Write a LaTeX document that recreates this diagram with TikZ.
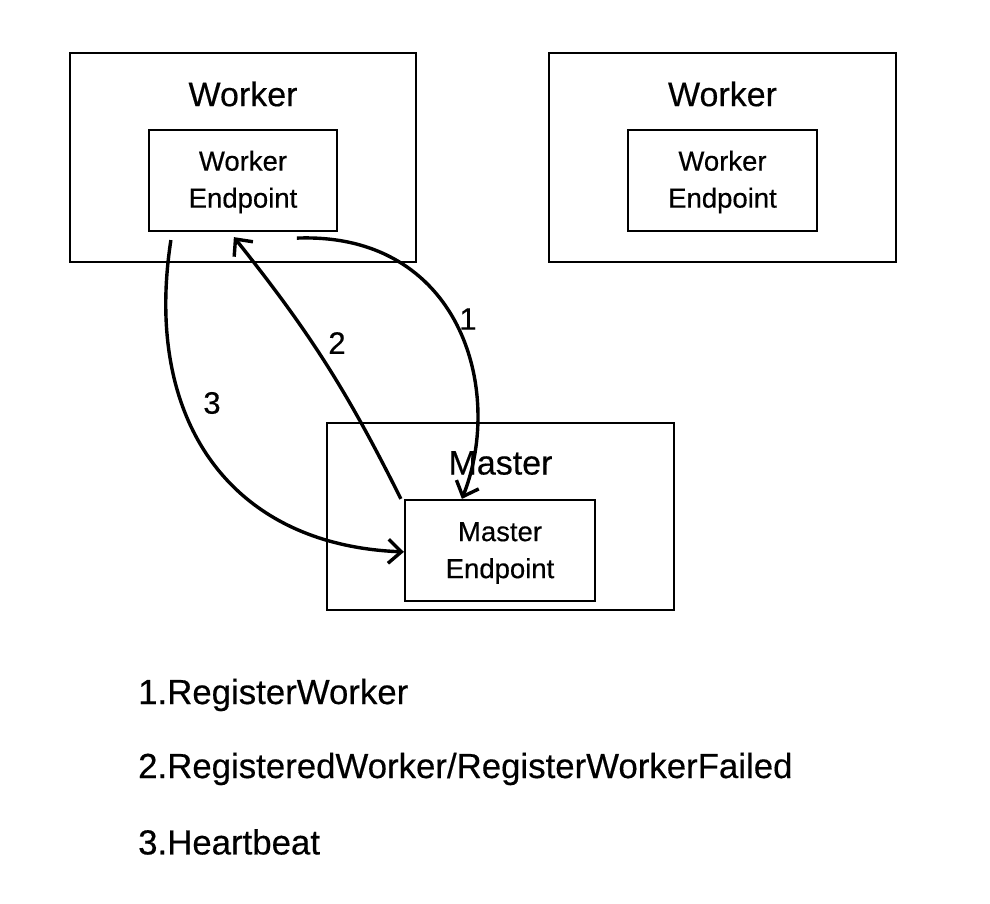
\documentclass[tikz,border=0pt]{standalone}
\usepackage{fontspec}
\setmainfont{Liberation Sans}[BoldFont={Liberation Sans},BoldFeatures={FakeBold=0.4}]
\usetikzlibrary{arrows.meta,calc}
\begin{document}
\begin{tikzpicture}[x=1pt,y=-1pt,
  outerbox/.style={draw=black,line width=2.2pt,rectangle,inner sep=0pt},
  innerbox/.style={draw=black,line width=2.2pt,rectangle,inner sep=0pt},
  title/.style={font=\bfseries\fontsize{34}{40}\selectfont,inner sep=0pt},
  inner/.style={font=\bfseries\fontsize{27.5}{37}\selectfont,align=center,inner sep=0pt},
  num/.style={font=\bfseries\fontsize{31}{36}\selectfont,inner sep=0pt},
  legend/.style={font=\bfseries\fontsize{34.8}{40}\selectfont,anchor=west,inner sep=0pt},
  conn/.style={line width=3.4pt,-{Straight Barb[length=13pt,width=24pt,line width=3.4pt]}}]
\useasboundingbox[fill=white] (0,0) rectangle (990,904);
% Worker 1
\node[outerbox,minimum width=346pt,minimum height=209pt] (w1) at (243,157.5) {};
\node[title] (w1t) at (243,94) {Worker};
\node[innerbox,minimum width=188pt,minimum height=101pt] (we1) at (243,180.5) {};
\node[inner] (we1t) at (243,182) {Worker\\Endpoint};
% Worker 2
\node[outerbox,minimum width=347pt,minimum height=209pt] (w2) at (722.5,157.5) {};
\node[title] (w2t) at (722.5,94) {Worker};
\node[innerbox,minimum width=189pt,minimum height=101pt] (we2) at (722.5,180.5) {};
\node[inner] (we2t) at (722.5,182) {Worker\\Endpoint};
% Master
\node[outerbox,minimum width=347pt,minimum height=187pt] (m) at (500.5,516.5) {};
\node[title] (mt) at (500.5,463) {Master};
\node[innerbox,minimum width=190pt,minimum height=101pt] (me) at (500,550.5) {};
\node[inner] (met) at (500,553) {Master\\Endpoint};
% connector end points
\coordinate (s1) at ($(we1.south west)+(149,6)$);
\coordinate (e1) at ($(me.north west)+(58,0)$);
\coordinate (s2) at ($(me.north west)+(-3,0)$);
\coordinate (e2) at ($(we1.south west)+(86,5)$);
\coordinate (s3) at ($(we1.south west)+(23,8)$);
\coordinate (e3) at ($(me.north west)+(0,53)$);
% arrows
\draw[conn] (s1) .. controls (460,232) and (505,390) .. (e1);
\draw[conn] (s2) to[bend right=6] (e2);
\draw[conn] (s3) .. controls (143,420) and (230,545) .. (e3);
% labels
\node[num] (n1) at (468,319) {1};
\node[num] (n2) at (337,343) {2};
\node[num] (n3) at (212,403) {3};
% legend
\node[legend] (l1) at (138,695) {1.RegisterWorker};
\node[legend] (l2) at (138,769) {2.RegisteredWorker/RegisterWorkerFailed};
\node[legend] (l3) at (138,842) {3.Heartbeat};
\end{tikzpicture}
\end{document}
